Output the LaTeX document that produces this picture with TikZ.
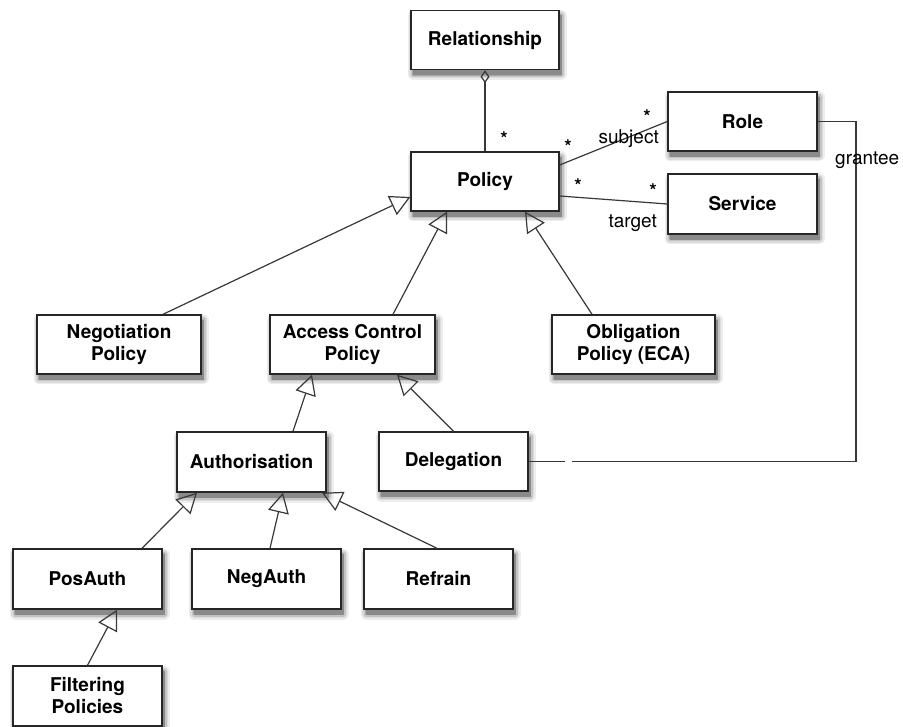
\documentclass[tikz,border=0pt]{standalone}
\usepackage{fontspec}
\setmainfont{TeX Gyre Heros}
\usetikzlibrary{arrows.meta,shadows}
\tikzset{
  % layered soft shadow: wide pale strokes underneath narrower darker ones
  soft shadow/.style={
    general shadow={fill=black!7,  draw=black!7,  line width=11pt, line join=round, shadow xshift=2pt, shadow yshift=-5pt},
    general shadow={fill=black!14, draw=black!14, line width=8pt,  line join=round, shadow xshift=2pt, shadow yshift=-5pt},
    general shadow={fill=black!23, draw=black!23, line width=5pt,  line join=round, shadow xshift=2pt, shadow yshift=-5pt},
    general shadow={fill=black!34, draw=black!34, line width=2.5pt,line join=round, shadow xshift=2pt, shadow yshift=-5pt},
    general shadow={fill=black!46, draw=black!46, line width=0.5pt,line join=round, shadow xshift=2pt, shadow yshift=-5pt}}
}
\begin{document}
\begin{tikzpicture}[x=1pt,y=-1pt,
  cls/.style={draw=black!85, line width=1.4pt, fill=white, inner sep=0pt,
    minimum width=148pt, minimum height=59pt, align=center,
    font=\fontsize{19}{22}\selectfont\bfseries, soft shadow},
  assoc/.style={draw=black!78, line width=1.2pt},
  inherit/.style={draw=black!78, line width=1.2pt,
    -{Triangle[open, length=20pt, width=21pt]}},
  agg/.style={draw=black!78, line width=1.2pt,
    {Diamond[open, length=13pt, width=9pt]}-},
  mult/.style={inner sep=0pt, anchor=north,
    font=\fontsize{19}{22}\selectfont\bfseries},
  role label/.style={inner sep=0pt, font=\fontsize{19}{22}\selectfont}]

\useasboundingbox (0,0) rectangle (903,727);

% classes
\node[cls] (rel)  at (485,40)      {Relationship};
\node[cls] (pol)  at (485,181.5)   {Policy};
\node[cls, minimum width=149pt] (role) at (742.5,121.5) {Role};
\node[cls, minimum width=149pt, minimum height=60pt] (serv) at (742.5,204) {Service};
\node[cls, minimum width=164pt] (neg)  at (119,344.5)   {Negotiation\\Policy};
\node[cls, minimum width=165pt] (acp)  at (352.5,344.5) {Access Control\\Policy};
\node[cls, minimum width=163pt] (obl)  at (633.5,344.5) {Obligation\\Policy (ECA)};
\node[cls, minimum width=149pt, minimum height=60pt] (auth) at (251.5,462) {Authorisation};
\node[cls, minimum width=149pt] (dele) at (453.5,461.5) {Delegation};
\node[cls, minimum width=149pt, minimum height=60pt] (pos)  at (87.5,579)  {PosAuth};
\node[cls, minimum width=149pt, minimum height=60pt] (nega) at (266.5,579) {NegAuth};
\node[cls, minimum width=149pt, minimum height=60pt] (refr) at (438.5,579) {Refrain};
\node[cls, minimum width=149pt, minimum height=60pt] (filt) at (87.5,696)  {Filtering\\Policies};

% aggregation and associations
\draw[agg] (rel.south) -- (pol.north);
\draw[assoc] ([yshift=16.5pt]pol.east) -- (role.west);
\draw[assoc] ([yshift=-14.5pt]pol.east) -- (serv.west);

\coordinate (turn) at (856,461.5);
\coordinate (gapR) at (572,461.5);
\coordinate (gapL) at (565,461.5);
\draw[assoc] (role.east) -| (turn) -- (gapR);
\draw[assoc] (gapL) -- (dele.east);

% multiplicities and role names
\node[mult] (m1) at (504,131) {*};
\node[mult] (m2) at (568,139) {*};
\node[mult] (m3) at (647,109) {*};
\node[mult] (m4) at (578,178) {*};
\node[mult] (m5) at (653,183) {*};
\node[role label, anchor=base east] (lsub) at (659,144) {subject};
\node[role label, anchor=base east] (ltgt) at (657,228) {target};
\node[role label, anchor=base west] (lgra) at (835,165) {grantee};

% generalisations
\draw[inherit] ([xshift=44pt]neg.north)   -- ([yshift=-15.5pt]pol.west);
\draw[inherit] ([xshift=40.5pt]acp.north) -- ([xshift=-38pt]pol.south);
\draw[inherit] ([xshift=-41.5pt]obl.north) -- ([xshift=40pt]pol.south);
\draw[inherit] ([xshift=41.5pt]auth.north) -- ([xshift=-40.5pt]acp.south);
\draw[inherit] (dele.north) -- ([xshift=44.5pt]acp.south);
\draw[inherit] ([xshift=54.5pt]pos.north) -- ([xshift=-54.5pt]auth.south);
\draw[inherit] ([xshift=3.5pt]nega.north) -- ([xshift=31.5pt]auth.south);
\draw[inherit] ([xshift=-1.5pt]refr.north) -- ([xshift=70.5pt]auth.south);
\draw[inherit] (filt.north) -- ([xshift=29.5pt]pos.south);
\end{tikzpicture}
\end{document}
